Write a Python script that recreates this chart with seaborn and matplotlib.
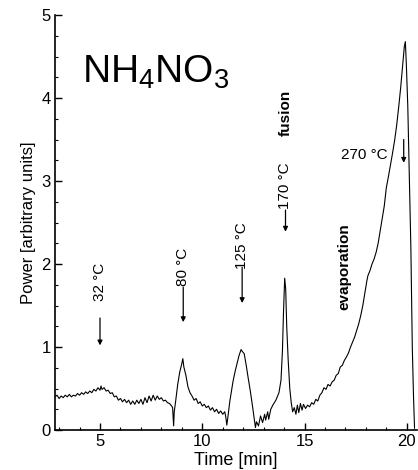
import numpy as np
import pandas as pd
import matplotlib
matplotlib.use('Agg')
import matplotlib.pyplot as plt
from matplotlib.ticker import MultipleLocator
import seaborn as sns

# ---- data ----
time_min = [
    2.8, 2.9, 3.0, 3.1, 3.2, 3.3, 3.4, 3.5, 3.6, 3.7, 3.8, 3.9, 4.0, 4.1, 4.2,
    4.3, 4.4, 4.5, 4.6, 4.7, 4.8, 4.9, 5.0, 5.05, 5.1, 5.2, 5.3, 5.4, 5.5, 5.6,
    5.7, 5.8, 5.9, 6.0, 6.1, 6.2, 6.3, 6.4, 6.5, 6.6, 6.7, 6.8, 6.9, 7.0, 7.1,
    7.2, 7.3, 7.4, 7.5, 7.6, 7.7, 7.8, 7.9, 8.0, 8.1, 8.2, 8.3, 8.4, 8.5, 8.55,
    8.6, 8.63, 8.7, 8.8, 8.9, 9.0, 9.05, 9.1, 9.2, 9.3, 9.4, 9.5, 9.6, 9.7, 9.8,
    9.9, 10.0, 10.1, 10.2, 10.3, 10.4, 10.5, 10.6, 10.7, 10.8, 10.9, 11.0, 11.1,
    11.15, 11.2, 11.25, 11.35, 11.5, 11.6, 11.7, 11.8, 11.9, 11.95, 12.05, 12.15,
    12.25, 12.35, 12.45, 12.55, 12.6, 12.65, 12.75, 12.85, 12.95, 13.05, 13.1,
    13.2, 13.25, 13.35, 13.45, 13.6, 13.75, 13.85, 13.92, 13.97, 14.03, 14.08,
    14.13, 14.2, 14.28, 14.35, 14.42, 14.5, 14.58, 14.65, 14.72, 14.8, 14.88,
    14.95, 15.05, 15.15, 15.25, 15.35, 15.45, 15.55, 15.65, 15.75, 15.85, 15.95,
    16.05, 16.15, 16.25, 16.35, 16.45, 16.55, 16.65, 16.75, 16.85, 16.95, 17.05,
    17.15, 17.25, 17.35, 17.45, 17.55, 17.65, 17.75, 17.85, 17.95, 18.05, 18.1,
    18.2, 18.3, 18.4, 18.5, 18.6, 18.7, 18.8, 18.9, 19.0, 19.1, 19.2, 19.3, 19.4,
    19.5, 19.6, 19.7, 19.8, 19.88, 19.93, 19.98, 20.05, 20.12, 20.2, 20.27,
    20.33, 20.38,
]
power = [
    0.40, 0.42, 0.38, 0.41, 0.39, 0.42, 0.40, 0.43, 0.40, 0.42, 0.41, 0.44, 0.42,
    0.45, 0.43, 0.46, 0.44, 0.47, 0.45, 0.49, 0.47, 0.51, 0.48, 0.53, 0.49, 0.51,
    0.47, 0.48, 0.44, 0.45, 0.40, 0.41, 0.36, 0.38, 0.34, 0.37, 0.33, 0.36, 0.31,
    0.35, 0.31, 0.36, 0.32, 0.37, 0.31, 0.39, 0.33, 0.41, 0.35, 0.42, 0.36, 0.41,
    0.37, 0.39, 0.35, 0.36, 0.33, 0.32, 0.29, 0.27, 0.05, 0.22, 0.35, 0.55, 0.70,
    0.80, 0.86, 0.76, 0.66, 0.52, 0.45, 0.41, 0.36, 0.38, 0.32, 0.34, 0.29, 0.31,
    0.27, 0.29, 0.24, 0.27, 0.22, 0.25, 0.20, 0.23, 0.19, 0.22, 0.16, 0.06, 0.15,
    0.35, 0.58, 0.70, 0.80, 0.90, 0.97, 0.95, 0.92, 0.78, 0.62, 0.47, 0.30, 0.12,
    0.03, 0.10, 0.05, 0.17, 0.09, 0.19, 0.12, 0.22, 0.13, 0.25, 0.30, 0.36, 0.45,
    0.60, 0.95, 1.40, 1.83, 1.70, 1.25, 0.85, 0.50, 0.33, 0.22, 0.27, 0.19, 0.30,
    0.21, 0.32, 0.24, 0.31, 0.26, 0.30, 0.28, 0.33, 0.31, 0.37, 0.35, 0.42, 0.45,
    0.51, 0.49, 0.55, 0.53, 0.58, 0.60, 0.66, 0.68, 0.76, 0.78, 0.84, 0.88, 0.93,
    1.00, 1.06, 1.12, 1.20, 1.28, 1.38, 1.50, 1.65, 1.80, 1.86, 1.92, 2.00, 2.06,
    2.14, 2.25, 2.40, 2.55, 2.70, 2.92, 3.05, 3.19, 3.33, 3.48, 3.66, 3.88, 4.12,
    4.40, 4.62, 4.68, 4.40, 3.90, 3.10, 2.20, 1.00, 0.40, 0.02,
]

# annotations: label, x, text centre y, arrow tail y, arrow tip y
ann_labels = ['32 °C', '80 °C', '125 °C', '170 °C']
ann_x = [5.0, 9.07, 11.95, 14.07]
ann_text_y = [1.78, 1.97, 2.22, 2.95]
ann_tail_y = [1.35, 1.72, 1.96, 2.65]
ann_tip_y = [1.02, 1.30, 1.53, 2.39]

df = pd.DataFrame({'time': time_min, 'power': power})

sns.set_style('ticks')
plt.rcParams['font.family'] = ['Liberation Sans', 'DejaVu Sans']
plt.rcParams['mathtext.fontset'] = 'custom'
plt.rcParams['mathtext.rm'] = 'Liberation Sans'
plt.rcParams['mathtext.it'] = 'Liberation Sans'
plt.rcParams['text.color'] = 'black'
plt.rcParams['axes.labelcolor'] = 'black'
plt.rcParams['xtick.color'] = 'black'
plt.rcParams['ytick.color'] = 'black'

fig = plt.figure(figsize=(4.18, 4.70), dpi=100)
ax = fig.add_axes([0.1316, 0.085, 0.866, 0.883])

sns.lineplot(data=df, x='time', y='power', ax=ax, color='black',
             linewidth=0.8, sort=False, estimator=None)

ax.set_xlim(2.8, 20.5)
ax.set_ylim(0, 5)
ax.set_xticks([5, 10, 15, 20])
ax.set_yticks([0, 1, 2, 3, 4, 5])
ax.xaxis.set_minor_locator(MultipleLocator(1))
ax.yaxis.set_minor_locator(MultipleLocator(0.25))
ax.tick_params(which='major', direction='in', length=5, width=1,
               labelsize=12, pad=3)
ax.tick_params(which='minor', direction='in', length=2, width=0.8)
for s in ['top', 'right']:
    ax.spines[s].set_visible(False)
for s in ['left', 'bottom']:
    ax.spines[s].set_color('black')
    ax.spines[s].set_linewidth(1.2)

ax.set_xlabel('Time [min]', fontsize=13, labelpad=2)
ax.set_ylabel('Power [arbitrary units]', fontsize=12, labelpad=4)

ax.text(4.12, 4.19, r'NH$_4$NO$_3$', fontsize=28, va='baseline', ha='left')

for lab, x, ty, tail, tip in zip(ann_labels, ann_x, ann_text_y, ann_tail_y, ann_tip_y):
    ax.text(x, ty, lab, rotation=90, ha='center', va='center', fontsize=11)
    ax.annotate('', xy=(x, tip), xytext=(x, tail),
                arrowprops=dict(arrowstyle='-|>', color='black', lw=0.9,
                                mutation_scale=7, shrinkA=0, shrinkB=0))

ax.text(14.07, 3.82, 'fusion', rotation=90, ha='center', va='center',
        fontsize=11, fontweight='bold')
ax.text(16.95, 1.97, 'evaporation', rotation=90, ha='center', va='center',
        fontsize=11, fontweight='bold')
ax.text(17.9, 3.31, '270 °C', ha='center', va='center', fontsize=11)
ax.annotate('', xy=(19.85, 3.22), xytext=(19.85, 3.50),
            arrowprops=dict(arrowstyle='-|>', color='black', lw=0.9,
                            mutation_scale=7, shrinkA=0, shrinkB=0))

fig.savefig('out.png', dpi=100)
